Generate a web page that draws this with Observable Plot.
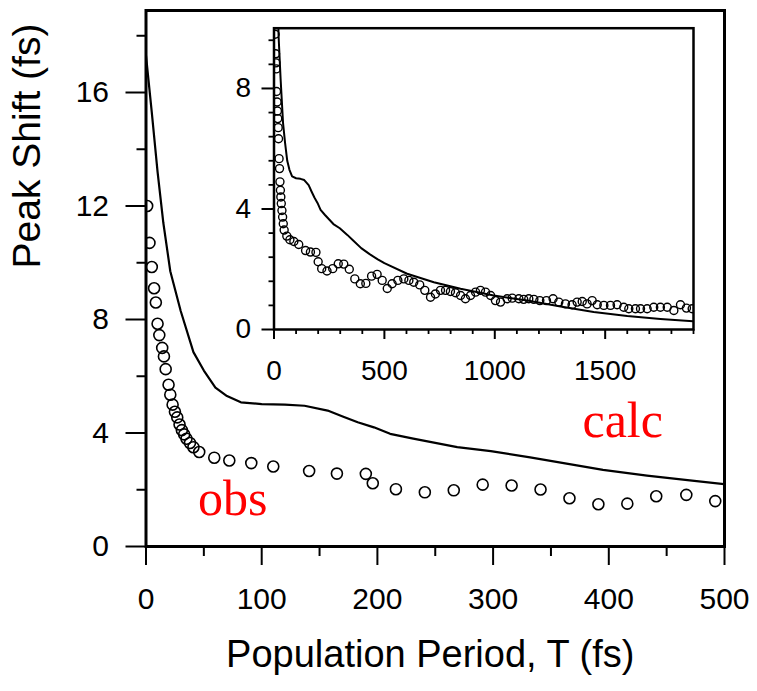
<!DOCTYPE html>
<html>
<head>
<meta charset="utf-8">
<script src="https://cdn.jsdelivr.net/npm/d3@7"></script>
<script src="https://cdn.jsdelivr.net/npm/@observablehq/plot@0.6"></script>
<style>
  html, body { margin: 0; padding: 0; background: white; }
  #wrap { position: relative; width: 757px; height: 691px; }
  #inset { position: absolute; left: 190px; top: 15px; width: 520px; height: 380px; }
</style>
</head>
<body>
<div id="wrap"><div id="main"></div><div id="inset"></div></div>
<script>
// ---- calculated peak shift (solid line), T in fs ----
const calcT = [0, 5, 10, 15, 21, 30, 41, 50, 60, 70, 82, 100, 120, 137, 157, 170, 183, 197, 211, 231, 250, 269, 298, 332, 361, 395, 433, 470, 500,
               603, 724, 845, 995, 1147, 1298, 1448, 1600, 1750, 1900];
const calcV = [17.3, 15.3, 13.2, 11.4, 9.7, 8.3, 6.85, 6.2, 5.6, 5.3, 5.08, 5.02, 5.0, 4.96, 4.79, 4.58, 4.38, 4.2, 3.97, 3.8, 3.65, 3.5, 3.36, 3.14, 2.94, 2.7, 2.5, 2.33, 2.2,
               1.85, 1.57, 1.35, 1.13, 0.96, 0.76, 0.58, 0.45, 0.35, 0.27];

// ---- observed peak shift (main panel circles) ----
const obsT = [1, 3, 5, 7, 8.5, 10, 11.5, 14, 15.5, 17, 19.5, 21, 23, 25, 27, 29, 31, 33, 35, 38, 41, 46, 59, 72, 91, 110, 141, 165, 190, 196, 216, 241, 266, 291, 316, 341, 366, 391, 416, 441, 467, 492];
const obsV = [12.0, 10.7, 9.85, 9.1, 8.6, 7.85, 7.45, 7.0, 6.7, 6.25, 5.7, 5.35, 5.0, 4.75, 4.55, 4.3, 4.1, 3.95, 3.8, 3.65, 3.5, 3.33, 3.13, 3.03, 2.94, 2.82, 2.66, 2.57, 2.56, 2.23, 2.02, 1.91, 1.98, 2.18, 2.15, 2.01, 1.7, 1.49, 1.51, 1.77, 1.82, 1.6];

// ---- observed peak shift (inset circles, long time range) ----
const insetObsT = [5, 7, 8.5, 10, 11.5, 14, 15.5, 17, 19, 20.5, 23, 25, 27, 29, 31, 33, 36, 39, 42, 46, 58, 72, 90, 112, 143, 165, 190, 200, 216, 240, 266, 291, 316, 341, 366, 391, 416, 442, 467, 490,
  513, 535, 561, 588, 611, 633, 660, 683, 709, 731, 754, 777, 799, 822, 845, 867, 890, 913, 935, 958, 981, 1003, 1026, 1056, 1079, 1109, 1131, 1154, 1177, 1204, 1234, 1264, 1290, 1320, 1350, 1373, 1396, 1418, 1441, 1464, 1494, 1524, 1554, 1584, 1607, 1637, 1660, 1690, 1720, 1750, 1781, 1811, 1841, 1868, 1894];
const insetObsV = [9.8, 9.15, 8.85, 8.65, 7.9, 7.55, 7.25, 7.0, 6.7, 6.33, 5.67, 5.34, 4.9, 4.62, 4.4, 4.18, 3.95, 3.73, 3.51, 3.3, 3.1, 2.98, 2.92, 2.82, 2.62, 2.57, 2.56, 2.25, 2.02, 1.94, 2.02, 2.18, 2.17, 2.0, 1.68, 1.52, 1.53, 1.77, 1.83, 1.63,
  1.36, 1.52, 1.63, 1.68, 1.63, 1.57, 1.48, 1.30, 1.07, 1.18, 1.30, 1.30, 1.26, 1.22, 1.13, 1.02, 1.13, 1.24, 1.30, 1.24, 1.13, 0.96, 0.91, 1.02, 1.04, 1.02, 1.00, 1.02, 1.00, 0.96, 0.96, 1.02, 0.91, 0.85, 0.82, 0.91, 0.93, 0.85, 0.96, 0.82, 0.80, 0.80, 0.82, 0.74, 0.69, 0.69, 0.69, 0.69, 0.74, 0.74, 0.74, 0.63, 0.82, 0.71, 0.69];

// ---- annotations ----
const annText = ["obs", "calc"];
const annT = [75, 412];
const annV = [1.66, 4.41];

// ---- ticks ----
const mainXTicks = [0, 100, 200, 300, 400, 500];
const mainXMinor = [50, 150, 250, 350, 450];
const mainYTicks = [0, 4, 8, 12, 16];
const mainYMinor = [2, 6, 10, 14, 18];
const insetXTicks = [0, 500, 1000, 1500];
const insetXMinor = [100, 200, 300, 400, 600, 700, 800, 900, 1100, 1200, 1300, 1400, 1600, 1700, 1800, 1900];
const insetYTicks = [0, 4, 8];
const insetYMinor = [0.8, 1.6, 2.4, 3.2, 4.8, 5.6, 6.4, 7.2, 8.8, 9.6];

const xTitle = "Population Period, T (fs)";
const yTitle = "Peak Shift (fs)";

const calc = calcT.map((t, i) => ({t, v: calcV[i]}));
const obs = obsT.map((t, i) => ({t, v: obsV[i]}));
const insetObs = insetObsT.map((t, i) => ({t, v: insetObsV[i]}));
const ann = annText.map((s, i) => ({s, t: annT[i], v: annV[i]}));

const sans = "'Liberation Sans', Arial, Helvetica, sans-serif";
const plain = (d) => String(d);
const ident = (d) => d;

// outward tick marks drawn as rules anchored on the axis value (0)
const xTickRules = (ticks, len, sw) => Plot.ruleX(ticks, {x: ident, y1: 0, y2: 0, insetTop: 0, insetBottom: -len, stroke: "black", strokeWidth: sw});
const yTickRules = (ticks, len, sw) => Plot.ruleY(ticks, {y: ident, x1: 0, x2: 0, insetLeft: -len, insetRight: 0, stroke: "black", strokeWidth: sw});

const main = Plot.plot({
  width: 757, height: 691,
  marginLeft: 145.5, marginRight: 33, marginTop: 10, marginBottom: 145,
  x: {domain: [0, 500]},
  y: {domain: [0, 18.89]},
  style: {fontFamily: sans, color: "black", background: "white"},
  marks: [
    Plot.axisX({ticks: mainXTicks, tickSize: 0, tickPadding: 41, fontSize: 30, tickFormat: plain, label: null}),
    Plot.axisY({ticks: mainYTicks, tickSize: 0, tickPadding: 37, fontSize: 30, tickFormat: plain, label: null}),
    xTickRules(mainXMinor, 10, 2),
    xTickRules(mainXTicks, 19, 2),
    yTickRules(mainYMinor, 9, 2),
    yTickRules(mainYTicks, 20, 2),
    Plot.line(calc, {x: "t", y: "v", stroke: "black", strokeWidth: 2.2, clip: true}),
    Plot.dot(obs, {x: "t", y: "v", r: 5.5, stroke: "black", strokeWidth: 1.6, fill: "none", clip: true}),
    Plot.text(ann, {x: "t", y: "v", text: "s", fill: "#ff0000", fontSize: 50, fontFamily: "'Liberation Serif', 'Times New Roman', serif"}),
    Plot.frame({stroke: "black", strokeWidth: 3}),
    Plot.text([xTitle], {frameAnchor: "bottom", dy: 120, dx: -5, fontSize: 38, fill: "black"}),
    Plot.text([yTitle], {frameAnchor: "left", rotate: -90, dx: -118, dy: -10, fontSize: 39, fill: "black"})
  ]
});
document.getElementById("main").appendChild(main);

const inset = Plot.plot({
  width: 520, height: 380,
  marginLeft: 83.5, marginRight: 17, marginTop: 12.7, marginBottom: 66,
  x: {domain: [0, 1900]},
  y: {domain: [0, 10]},
  style: {fontFamily: sans, color: "black", background: "none"},
  marks: [
    Plot.frame({fill: "white", stroke: "none"}),
    Plot.axisX({ticks: insetXTicks, tickSize: 0, tickPadding: 31, fontSize: 28, tickFormat: plain, label: null}),
    Plot.axisY({ticks: insetYTicks, tickSize: 0, tickPadding: 23, fontSize: 28, tickFormat: plain, label: null}),
    xTickRules(insetXMinor, 5, 1.8),
    xTickRules(insetXTicks, 10, 2),
    yTickRules(insetYMinor, 5, 1.8),
    yTickRules(insetYTicks, 12, 2),
    Plot.line(calc, {x: "t", y: "v", stroke: "black", strokeWidth: 2, clip: true}),
    Plot.dot(insetObs, {x: "t", y: "v", r: 4, stroke: "black", strokeWidth: 1.4, fill: "none", clip: true}),
    Plot.frame({stroke: "black", strokeWidth: 2.5})
  ]
});
document.getElementById("inset").appendChild(inset);
</script>
</body>
</html>
